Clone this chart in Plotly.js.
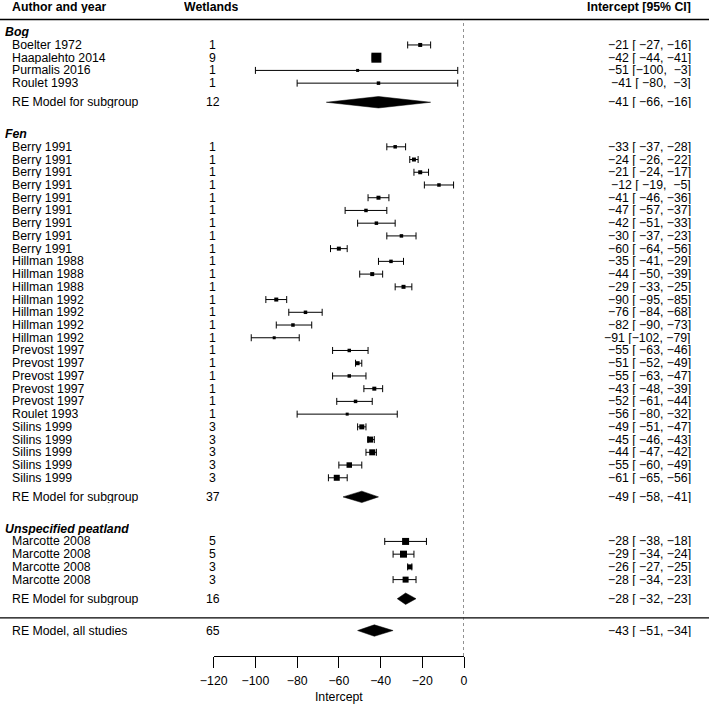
<!DOCTYPE html>
<html>
<head>
<meta charset="utf-8">
<script src="https://cdn.plot.ly/plotly-3.0.1.min.js"></script>
<style>html,body{margin:0;padding:0;background:#fff;}#chart{width:709px;height:705px;}</style>
</head>
<body>
<div id="chart"></div>
<script>
// ---------------- data ----------------
const groupNames = ["Bog", "Fen", "Unspecified peatland"];
const studyGroup = [0,0,0,0,
  1,1,1,1,1,1,1,1,1, 1,1,1, 1,1,1,1, 1,1,1,1,1, 1, 1,1,1,1,1,
  2,2,2,2];
const studyNames = ["Boelter 1972","Haapalehto 2014","Purmalis 2016","Roulet 1993",
  "Berry 1991","Berry 1991","Berry 1991","Berry 1991","Berry 1991","Berry 1991","Berry 1991","Berry 1991","Berry 1991",
  "Hillman 1988","Hillman 1988","Hillman 1988",
  "Hillman 1992","Hillman 1992","Hillman 1992","Hillman 1992",
  "Prevost 1997","Prevost 1997","Prevost 1997","Prevost 1997","Prevost 1997",
  "Roulet 1993",
  "Silins 1999","Silins 1999","Silins 1999","Silins 1999","Silins 1999",
  "Marcotte 2008","Marcotte 2008","Marcotte 2008","Marcotte 2008"];
const wetlands = [1,9,1,1, 1,1,1,1,1,1,1,1,1, 1,1,1, 1,1,1,1, 1,1,1,1,1, 1, 3,3,3,3,3, 5,5,3,3];
const estimate = [-21,-42,-51,-41,
  -33,-24,-21,-12,-41,-47,-42,-30,-60,
  -35,-44,-29,
  -90,-76,-82,-91,
  -55,-51,-55,-43,-52,
  -56,
  -49,-45,-44,-55,-61,
  -28,-29,-26,-28];
const ciLower = [-27,-44,-100,-80,
  -37,-26,-24,-19,-46,-57,-51,-37,-64,
  -41,-50,-33,
  -95,-84,-90,-102,
  -63,-52,-63,-48,-61,
  -80,
  -51,-46,-47,-60,-65,
  -38,-34,-27,-34];
const ciUpper = [-16,-41,-3,-3,
  -28,-22,-17,-5,-36,-37,-33,-23,-56,
  -29,-39,-25,
  -85,-68,-73,-79,
  -46,-49,-47,-39,-44,
  -32,
  -47,-43,-42,-49,-56,
  -18,-24,-25,-23];
// subgroup RE models
const groupWetlands = [12, 37, 16];
const groupEstimate = [-41, -49, -28];
const groupLower = [-66, -58, -32];
const groupUpper = [-16, -41, -23];
// overall RE model
const overallLabel = "RE Model, all studies";
const overallWetlands = 65;
const overallEstimate = -43;
const overallLower = -51;
const overallUpper = -34;
const tickValues = [-120,-100,-80,-60,-40,-20,0];

// ---------------- style ----------------
const pointSize = [4,10,3,3.5,
  3.5,4,4,3.5,4,3.5,3.5,3.5,4,
  3.5,4,4,
  4,3.5,3.5,3,
  3.5,4,3.5,4,3.5,
  3,
  5,6,6,5.5,6,
  7,7,5,6];
const FONT = "Liberation Sans, Arial, Helvetica, sans-serif";
const FS = 12.3;
const NB = "\u00A0";
const PXW = 709;
const colName = 11 / PXW, colWet = 213 / PXW, colCI = 692 / PXW, colHead = 4 / PXW;

function fmt(v){ return (v < 0 ? "\u2212" : "") + Math.abs(v); }
function pad(s, n){ while (s.length < n) s = NB + s; return s; }
function ciText(e, l, u){ return pad(fmt(e),3) + NB + "[" + pad(fmt(l),4) + "," + pad(fmt(u),4) + "]"; }

// ---------------- row layout ----------------
const rows = [];
const headerRows = [], reRows = [];
let r = 49;
for (let g = 0; g < groupNames.length; g++) {
  headerRows.push(r);
  r -= 1;
  for (let i = 0; i < studyNames.length; i++) {
    if (studyGroup[i] === g) { rows[i] = r; r -= 1; }
  }
  const re = r + 1 - 1.5;
  reRows.push(re);
  r = re - 2.5;
}
const lastRE = reRows[reRows.length - 1];
const sepRow = lastRE - 1.5;
const overallRow = sepRow - 1;
const topRow = headerRows[0] + 1;
const headRow = topRow + 1;

const annotations = [];
function ann(text, x, y, anchor){
  annotations.push({text: text, x: x, y: y, xref: "paper", yref: "y",
    xanchor: anchor, yanchor: "middle", showarrow: false, height: 12, valign: "middle",
    borderpad: 0,
    font: {family: FONT, size: FS, color: "#000"}});
}
ann("<b>Author and year</b>", colName, headRow, "left");
ann("<b>Wetlands</b>", 211.5 / PXW, headRow, "center");
ann("<b>Intercept [95% CI]</b>", colCI, headRow, "right");
for (let g = 0; g < groupNames.length; g++) {
  ann("<b><i>" + groupNames[g] + "</i></b>", colHead, headerRows[g], "left");
  ann("RE Model for subgroup", colName, reRows[g], "left");
  ann(String(groupWetlands[g]), colWet, reRows[g], "center");
  ann(ciText(groupEstimate[g], groupLower[g], groupUpper[g]), colCI, reRows[g], "right");
}
for (let i = 0; i < studyNames.length; i++) {
  ann(studyNames[i], colName, rows[i], "left");
  ann(String(wetlands[i]), colWet, rows[i], "center");
  ann(ciText(estimate[i], ciLower[i], ciUpper[i]), colCI, rows[i], "right");
}
ann(overallLabel, colName, overallRow, "left");
ann(String(overallWetlands), colWet, overallRow, "center");
ann(ciText(overallEstimate, overallLower, overallUpper), colCI, overallRow, "right");

// ---------------- traces ----------------
const points = {
  type: "scatter", mode: "markers",
  x: estimate, y: rows,
  marker: {symbol: "square", size: pointSize, color: "#000", opacity: 1, line: {width: 0}},
  error_x: {type: "data", symmetric: false,
    array: estimate.map((e, i) => ciUpper[i] - e),
    arrayminus: estimate.map((e, i) => e - ciLower[i]),
    color: "#000", thickness: 1, width: 3.5},
  cliponaxis: false, hoverinfo: "skip"
};
const dh = 0.45;
const dx = [], dy = [];
const sumEst = groupEstimate.concat([overallEstimate]);
const sumLo = groupLower.concat([overallLower]);
const sumHi = groupUpper.concat([overallUpper]);
const sumRow = reRows.concat([overallRow]);
for (let k = 0; k < sumEst.length; k++) {
  dx.push(sumLo[k], sumEst[k], sumHi[k], sumEst[k], sumLo[k], null);
  dy.push(sumRow[k], sumRow[k] + dh, sumRow[k], sumRow[k] - dh, sumRow[k], null);
}
const diamonds = {
  type: "scatter", mode: "lines", x: dx, y: dy, fill: "toself",
  fillcolor: "#000", line: {color: "#000", width: 0.5},
  cliponaxis: false, hoverinfo: "skip", connectgaps: false
};

const yTop = 656 / 12.73;
const layout = {
  width: 709, height: 705,
  margin: {l: 0, r: 0, t: 0, b: 49, pad: 0},
  paper_bgcolor: "#fff", plot_bgcolor: "#fff",
  showlegend: false,
  font: {family: FONT, size: FS, color: "#000"},
  xaxis: {
    domain: [213.7 / PXW, 464 / PXW], range: [-120, 0],
    showline: true, linecolor: "#000", linewidth: 1,
    ticks: "outside", ticklen: 11, tickwidth: 1, tickcolor: "#000",
    ticklabelstandoff: 2,
    tickvals: tickValues, ticktext: tickValues.map(fmt),
    tickfont: {family: FONT, size: FS, color: "#000"},
    showgrid: false, zeroline: false, fixedrange: true,
    title: {text: "Intercept", font: {family: FONT, size: FS, color: "#000"}, standoff: 5}
  },
  yaxis: {range: [0, yTop], visible: false, showgrid: false, zeroline: false, fixedrange: true},
  shapes: [
    {type: "line", xref: "paper", x0: 0, x1: 1, yref: "y", y0: topRow, y1: topRow, line: {color: "#000", width: 1.3}},
    {type: "line", xref: "paper", x0: 0, x1: 1, yref: "y", y0: sepRow, y1: sepRow, line: {color: "#000", width: 1.3}},
    {type: "line", xref: "x", x0: 0, x1: 0, yref: "y", y0: 0, y1: topRow, line: {color: "#222", width: 1, dash: "dot"}}
  ],
  annotations: annotations
};
Plotly.newPlot("chart", [diamonds, points], layout, {displayModeBar: false, staticPlot: true});
</script>
</body>
</html>
